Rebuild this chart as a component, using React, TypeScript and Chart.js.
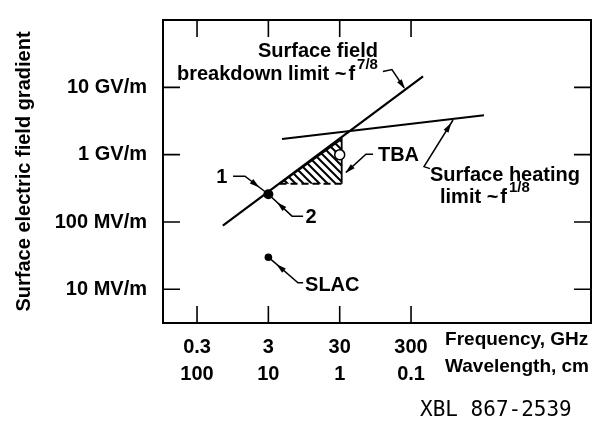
import React, { useEffect, useRef } from "react";
import { Chart, registerables } from "chart.js";

Chart.register(...registerables);

// ---- data (frequency in GHz, field in MV/m) ----
const freqTicks = [0.3, 3, 30, 300];
const freqLabels = ["0.3", "3", "30", "300"];
const waveLabels = ["100", "10", "1", "0.1"];
const fieldTicks = [10, 100, 1000, 10000];
const fieldLabels = ["10 MV/m", "100 MV/m", "1 GV/m", "10 GV/m"];

const breakdownLimit = [
  { x: 0.69, y: 88 },
  { x: 442, y: 14600 },
];
const heatingLimit = [
  { x: 4.66, y: 1710 },
  { x: 3160, y: 3850 },
];
const tbaRegion = [
  { x: 4.3, y: 370 },
  { x: 32, y: 370 },
  { x: 32, y: 1700 },
  { x: 4.3, y: 370 },
];
const operatingPoint = [{ x: 3, y: 258 }];
const slacPoint = [{ x: 3, y: 30 }];
const tbaPoint = [{ x: 30, y: 1000 }];

// ---- annotations (data coordinates) ----
type Part = { t: string; sup?: boolean; gap?: number };
const textLabels: { parts: Part[]; x: number; y: number; align: "left" | "right" | "center" }[] = [
  { parts: [{ t: "Surface field" }], x: 103, y: 34100, align: "right" },
  {
    parts: [{ t: "breakdown limit ~" }, { t: "f", gap: 2 }, { t: "7/8", sup: true, gap: 2 }],
    x: 103,
    y: 15600,
    align: "right",
  },
  { parts: [{ t: "Surface heating" }], x: 553, y: 494, align: "left" },
  {
    parts: [{ t: "limit ~" }, { t: "f", gap: 2 }, { t: "1/8", sup: true, gap: 2 }],
    x: 764,
    y: 234,
    align: "left",
  },
  { parts: [{ t: "TBA" }], x: 103, y: 982, align: "left" },
  { parts: [{ t: "SLAC" }], x: 9.8, y: 11.3, align: "left" },
  { parts: [{ t: "1" }], x: 0.67, y: 464, align: "center" },
  { parts: [{ t: "2" }], x: 11.9, y: 118, align: "center" },
];

const leaders: { pts: number[][]; seg: number; t: number; reverse?: boolean }[] = [
  { pts: [[0.96, 479], [1.41, 479], [3, 258]], seg: 1, t: 0.45 },
  { pts: [[3, 258], [6.44, 122], [9.2, 122]], seg: 0, t: 0.52, reverse: true },
  { pts: [[3, 30], [7.8, 12.5], [9.2, 12.5]], seg: 0, t: 0.4, reverse: true },
  { pts: [[88, 1014], [70, 1014], [36.8, 546]], seg: 1, t: 0.85 },
  { pts: [[121, 17200], [162, 18400], [239, 9900]], seg: 1, t: 0.85 },
  { pts: [[553, 621], [456, 664], [1164, 3270]], seg: 1, t: 0.85 },
];

const axisNames = [
  { text: "Frequency, GHz", x: 900, dy: 17 },
  { text: "Wavelength, cm", x: 900, dy: 44 },
];
const sourceTag = { text: "XBL 867-2539", x: 401, dy: 88 };

const FONT = "'Liberation Sans', Arial, Helvetica, sans-serif";
const WEIGHT = "bold";

function makeHatch(): CanvasPattern | string {
  const s = 8;
  const c = document.createElement("canvas");
  c.width = s;
  c.height = s;
  const g = c.getContext("2d");
  if (!g) return "rgba(0,0,0,0.3)";
  g.strokeStyle = "#000";
  g.lineWidth = 2;
  g.beginPath();
  g.moveTo(0, 0);
  g.lineTo(s, s);
  g.moveTo(-2, s - 2);
  g.lineTo(2, s + 2);
  g.moveTo(s - 2, -2);
  g.lineTo(s + 2, 2);
  g.stroke();
  const p = g.createPattern(c, "repeat");
  return p || "rgba(0,0,0,0.3)";
}

const annotationPlugin = {
  id: "annotations",
  afterDatasetsDraw(chart: any) {
    const { ctx, chartArea } = chart;
    const xs = chart.scales.x;
    const ys = chart.scales.y;
    const { left, right, top, bottom } = chartArea;
    ctx.save();
    ctx.strokeStyle = "#000";
    ctx.fillStyle = "#000";

    // frame
    ctx.lineWidth = 2;
    ctx.strokeRect(left, top, right - left, bottom - top);

    // inward tick marks on all sides
    ctx.lineWidth = 1.6;
    const tl = 17;
    ctx.beginPath();
    freqTicks.forEach((v) => {
      const px = xs.getPixelForValue(v);
      ctx.moveTo(px, bottom);
      ctx.lineTo(px, bottom - tl);
      ctx.moveTo(px, top);
      ctx.lineTo(px, top + tl);
    });
    fieldTicks.forEach((v) => {
      const py = ys.getPixelForValue(v);
      ctx.moveTo(left, py);
      ctx.lineTo(left + tl, py);
      ctx.moveTo(right, py);
      ctx.lineTo(right - tl, py);
    });
    ctx.stroke();

    // leader lines with arrowheads
    ctx.lineWidth = 1.5;
    leaders.forEach((l) => {
      const p = l.pts.map(([a, b]) => [xs.getPixelForValue(a), ys.getPixelForValue(b)]);
      ctx.beginPath();
      ctx.moveTo(p[0][0], p[0][1]);
      for (let i = 1; i < p.length; i++) ctx.lineTo(p[i][0], p[i][1]);
      ctx.stroke();
      const a = p[l.seg];
      const b = p[l.seg + 1];
      let dx = b[0] - a[0];
      let dy = b[1] - a[1];
      const len = Math.hypot(dx, dy) || 1;
      dx /= len;
      dy /= len;
      if (l.reverse) {
        dx = -dx;
        dy = -dy;
      }
      const cx = a[0] + (b[0] - a[0]) * l.t;
      const cy = a[1] + (b[1] - a[1]) * l.t;
      const hl = 5;
      const hw = 2.8;
      ctx.beginPath();
      ctx.moveTo(cx + dx * hl, cy + dy * hl);
      ctx.lineTo(cx - dx * hl - dy * hw, cy - dy * hl + dx * hw);
      ctx.lineTo(cx - dx * hl + dy * hw, cy - dy * hl - dx * hw);
      ctx.closePath();
      ctx.fill();
    });

    // text labels
    ctx.textBaseline = "middle";
    ctx.textAlign = "left";
    const mainFont = `${WEIGHT} 20px ${FONT}`;
    const supFont = `${WEIGHT} 15px ${FONT}`;
    textLabels.forEach((lab) => {
      const px = xs.getPixelForValue(lab.x);
      const py = ys.getPixelForValue(lab.y);
      let total = 0;
      const widths = lab.parts.map((pt) => {
        ctx.font = pt.sup ? supFont : mainFont;
        const w = ctx.measureText(pt.t).width + (pt.gap || 0);
        total += w;
        return w;
      });
      let sx = lab.align === "right" ? px - total : lab.align === "center" ? px - total / 2 : px;
      lab.parts.forEach((pt, i) => {
        ctx.font = pt.sup ? supFont : mainFont;
        ctx.fillText(pt.t, sx + (pt.gap || 0), pt.sup ? py - 9 : py);
        sx += widths[i];
      });
    });

    // axis names beside tick labels
    ctx.font = `${WEIGHT} 19px ${FONT}`;
    axisNames.forEach((n) => {
      ctx.fillText(n.text, xs.getPixelForValue(n.x), xs.top + n.dy);
    });
    ctx.font = `21px 'DejaVu Sans Mono', 'Liberation Mono', monospace`;
    ctx.fillText(sourceTag.text, xs.getPixelForValue(sourceTag.x), xs.top + sourceTag.dy);

    ctx.restore();
  },
};

export default function App() {
  const ref = useRef<HTMLCanvasElement | null>(null);

  useEffect(() => {
    if (!ref.current) return;
    Chart.defaults.font.family = FONT;
    Chart.defaults.color = "#000";
    const hatch = makeHatch();
    const chart = new Chart(ref.current, {
      type: "scatter",
      data: {
        datasets: [
          {
            label: "TBA",
            data: tbaPoint,
            pointRadius: 5,
            pointBackgroundColor: "#fff",
            pointBorderColor: "#000",
            pointBorderWidth: 1.5,
          },
          {
            label: "SLAC",
            data: slacPoint,
            pointRadius: 3.8,
            pointBackgroundColor: "#000",
            pointBorderColor: "#000",
            pointBorderWidth: 0,
          },
          {
            label: "1, 2",
            data: operatingPoint,
            pointRadius: 5,
            pointBackgroundColor: "#000",
            pointBorderColor: "#000",
            pointBorderWidth: 0,
          },
          {
            label: "Surface field breakdown limit",
            data: breakdownLimit,
            showLine: true,
            pointRadius: 0,
            borderColor: "#000",
            borderWidth: 2.2,
          },
          {
            label: "Surface heating limit",
            data: heatingLimit,
            showLine: true,
            pointRadius: 0,
            borderColor: "#000",
            borderWidth: 2.2,
          },
          {
            label: "TBA region",
            data: tbaRegion,
            showLine: true,
            pointRadius: 0,
            borderColor: "#000",
            borderWidth: 1.8,
            backgroundColor: hatch as any,
            fill: "shape",
            segment: {
              borderDash: (c: any) => (c.p0DataIndex === 0 ? [7, 4] : undefined),
            },
          } as any,
        ],
      },
      options: {
        responsive: false,
        animation: false,
        layout: { padding: { left: 0, top: 7, right: 13, bottom: 0 } },
        plugins: {
          legend: { display: false },
          tooltip: { enabled: false },
        },
        scales: {
          x: {
            type: "logarithmic",
            position: "bottom",
            min: 0.1,
            max: 100000,
            grid: { display: false },
            border: { display: false },
            afterBuildTicks: (s: any) => {
              s.ticks = freqTicks.map((v) => ({ value: v }));
            },
            afterFit: (s: any) => {
              s.height = 100;
            },
            ticks: {
              autoSkip: false,
              maxRotation: 0,
              minRotation: 0,
              padding: 3,
              color: "#000",
              font: { size: 20, weight: WEIGHT, lineHeight: 1.35 },
              callback: (_v: any, i: number) => [freqLabels[i], waveLabels[i]],
            },
          },
          y: {
            type: "logarithmic",
            position: "left",
            min: 3.16,
            max: 100000,
            grid: { display: false },
            border: { display: false },
            afterBuildTicks: (s: any) => {
              s.ticks = fieldTicks.map((v) => ({ value: v }));
            },
            afterFit: (s: any) => {
              s.width = 163;
            },
            title: {
              display: true,
              text: "Surface electric field gradient",
              color: "#000",
              font: { size: 20, weight: WEIGHT },
              padding: { top: 12, bottom: 0 },
            },
            ticks: {
              autoSkip: false,
              padding: 8,
              color: "#000",
              font: { size: 20, weight: WEIGHT },
              callback: (_v: any, i: number) => fieldLabels[i],
            },
          },
        },
      },
      plugins: [annotationPlugin],
    } as any);
    return () => chart.destroy();
  }, []);

  return (
    <div style={{ position: "absolute", left: 0, top: 0, width: 604, height: 423, background: "#fff" }}>
      <canvas ref={ref} width={604} height={423} style={{ display: "block" }} />
    </div>
  );
}
